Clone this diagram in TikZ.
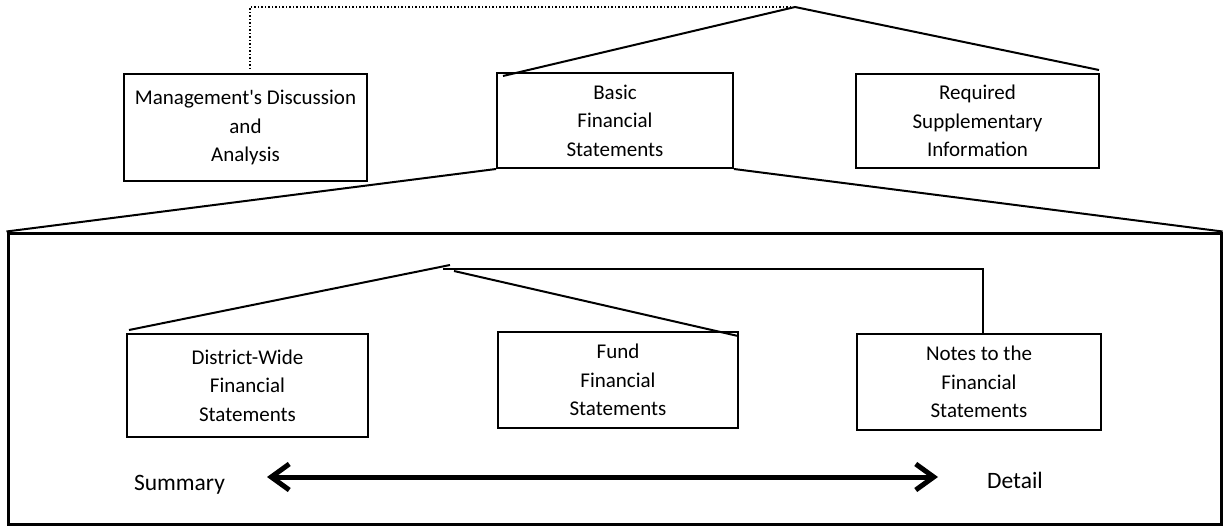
\documentclass[tikz,border=0pt]{standalone}
\usepackage{fontspec}
\setmainfont{Carlito}
\usetikzlibrary{arrows.meta}
\tikzset{
  box/.style={draw, line width=2pt, inner sep=0pt, align=center, font=\fontsize{21}{28.5}\selectfont},
  link/.style={line width=2pt},
  lbl/.style={font=\fontsize{23.5}{28.5}\selectfont, inner sep=0pt, anchor=base}
}
\begin{document}
\begin{tikzpicture}[x=1pt,y=-1pt]
\useasboundingbox (0,0) rectangle (1224,527);
% top level boxes
\node[box, minimum width=243pt, minimum height=107pt] (mda) at (245.5,127.5) {Management\textquotesingle s Discussion\\and\\Analysis};
\node[box, minimum width=236pt, minimum height=95pt] (bfs) at (615,120.5) {Basic\\Financial\\Statements};
\node[box, minimum width=243pt, minimum height=94pt] (rsi) at (977.5,121) {Required\\Supplementary\\Information};
% big frame
\node[draw, line width=3pt, minimum width=1213pt, minimum height=291pt, inner sep=0pt] (big) at (614.5,378.5) {};
% inner boxes
\node[box, minimum width=241pt, minimum height=103pt] (dw) at (247.5,385.5) {District-Wide\\Financial\\Statements};
\node[box, minimum width=240pt, minimum height=96pt] (fund) at (618,380) {Fund\\Financial\\Statements};
\node[box, minimum width=244pt, minimum height=96pt] (notes) at (979,382) {Notes to the\\Financial\\Statements};
% coordinates
\coordinate (apex) at (795,7);
\coordinate (dotend) at (791,7);
\coordinate (mdatop) at (250,69);
\coordinate (bfsin) at (503,76);
\coordinate (rsiin) at (1099,70);
\coordinate (iapex) at (450,265);
\coordinate (iapex2) at (454,271);
\coordinate (hstart) at (443,269);
\coordinate (hturn) at (983,269);
\coordinate (notestop) at (983,334);
\coordinate (dwin) at (129,330);
\coordinate (fundin) at (738,336);
% top connectors
\draw[dotted, line width=1.5pt] (dotend) -| (mdatop);
\draw[link] (bfsin) -- (apex) -- (rsiin);
\draw[link] (bfs.south west) -- (big.north west);
\draw[link] (bfs.south east) -- (big.north east);
% inner connectors
\draw[link] (dwin) -- (iapex);
\draw[link] (iapex2) -- (fundin);
\draw[link] (hstart) -- (hturn) -- (notestop);
% summary/detail
\node[lbl] (sum) at (179.5,490) {Summary};
\node[lbl] (det) at (1015,488) {Detail};
\coordinate (al) at (267,477);
\coordinate (ar) at (938,477);
\draw[line width=5pt, {Straight Barb[length=18pt,width=26pt]}-{Straight Barb[length=18pt,width=26pt]}] (al) -- (ar);
\end{tikzpicture}
\end{document}
